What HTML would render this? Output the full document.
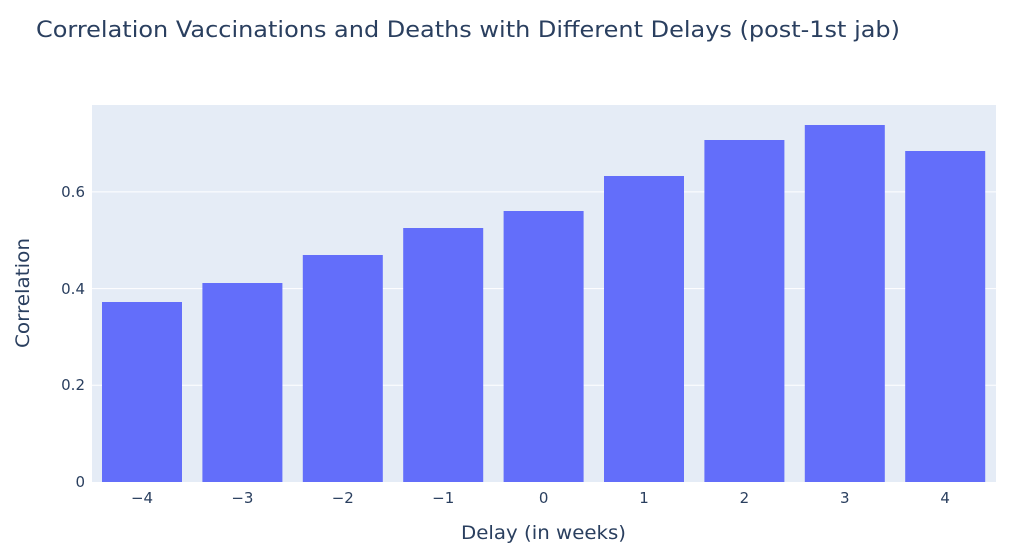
<!DOCTYPE html>
<html><head><meta charset="utf-8"><style>body{margin:0;background:#fff}svg{display:block}text{font-family:"DejaVu Sans","Liberation Sans",sans-serif;fill:#2a3f5f}</style></head>
<body>
<svg width="1024" height="556" viewBox="0 0 1024 556">
<text x="36" y="37" font-size="22" textLength="864" lengthAdjust="spacingAndGlyphs">Correlation Vaccinations and Deaths with Different Delays (post-1st jab)</text>
<rect x="92" y="105" width="904" height="377" fill="#e5ecf6"/>
<g stroke="#fff" stroke-width="1">
<line x1="92" x2="996" y1="385.3" y2="385.3"/>
<line x1="92" x2="996" y1="288.6" y2="288.6"/>
<line x1="92" x2="996" y1="191.9" y2="191.9"/>
</g>
<g fill="#636efa">
<rect x="102" y="302" width="80" height="180"/>
<rect x="202.4" y="283" width="80" height="199"/>
<rect x="302.8" y="255" width="80" height="227"/>
<rect x="403.2" y="228" width="80" height="254"/>
<rect x="503.6" y="211" width="80" height="271"/>
<rect x="604" y="176" width="80" height="306"/>
<rect x="704.4" y="140" width="80" height="342"/>
<rect x="804.8" y="125" width="80" height="357"/>
<rect x="905.2" y="151" width="80" height="331"/>
</g>
<g font-size="15" text-anchor="end">
<text x="85" y="487">0</text>
<text x="85" y="390">0.2</text>
<text x="85" y="294">0.4</text>
<text x="85" y="197">0.6</text>
</g>
<g font-size="15" text-anchor="middle">
<text x="142" y="503">−4</text>
<text x="242.4" y="503">−3</text>
<text x="342.8" y="503">−2</text>
<text x="443.2" y="503">−1</text>
<text x="543.6" y="503">0</text>
<text x="644" y="503">1</text>
<text x="744.4" y="503">2</text>
<text x="844.8" y="503">3</text>
<text x="945.2" y="503">4</text>
</g>
<text x="461" y="539" font-size="19" textLength="165" lengthAdjust="spacingAndGlyphs">Delay (in weeks)</text>
<text transform="translate(29,348) rotate(-90)" font-size="19" textLength="110" lengthAdjust="spacingAndGlyphs">Correlation</text>
</svg>
</body></html>
